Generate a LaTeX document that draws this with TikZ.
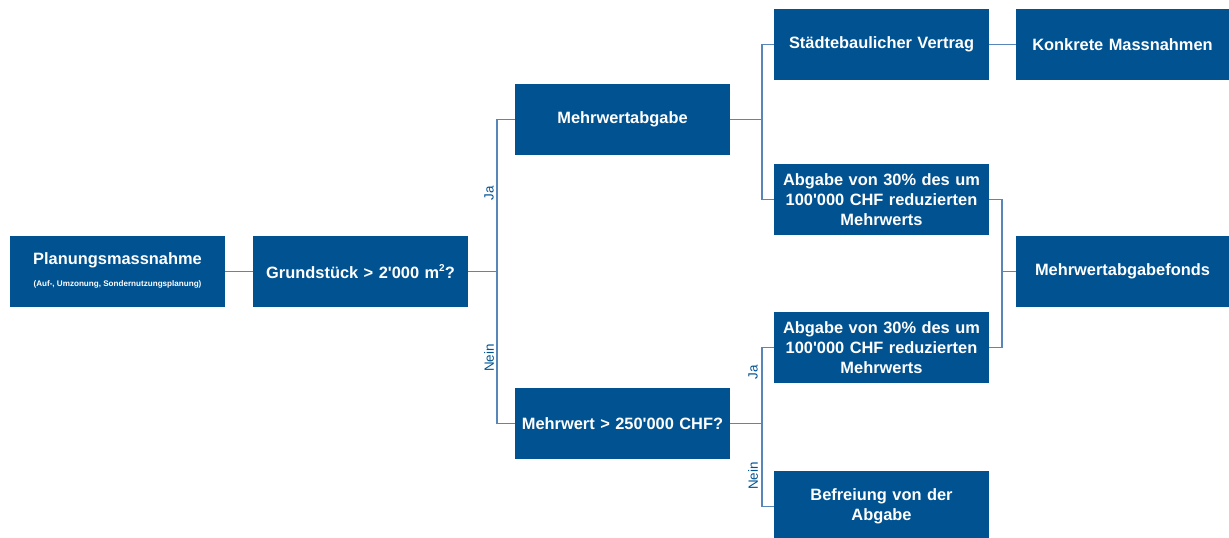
\documentclass[tikz,border=0pt]{standalone}
\usepackage{fontspec}
\setmainfont{Liberation Sans}
\definecolor{boxblue}{RGB}{0,82,145}
\definecolor{lineblue}{RGB}{88,134,184}
\newcommand{\sq}{\textquotesingle}
\begin{document}
\begin{tikzpicture}[x=1pt,y=-1pt,
  box/.style={fill=boxblue, text=white, inner sep=0pt, minimum width=215pt, minimum height=71pt,
    text width=210pt, align=center, font=\bfseries\fontsize{16.4}{20}\selectfont},
  conn/.style={draw=lineblue, line width=1.5pt},
  lbl/.style={text=boxblue, rotate=90, inner sep=0pt, font=\fontsize{13.4}{15}\selectfont}]
\useasboundingbox (0,0) rectangle (1229,538);
\node[box] (plan) at (117.5,271.5) {};
\node[inner sep=0pt, text=white, font=\bfseries\fontsize{16.4}{20}\selectfont] (plantxt) at (117.5,260) {Planungsmassnahme};
\node[inner sep=0pt, text=white, font=\bfseries\fontsize{8.1}{9}\selectfont] (plansub) at (117.5,284) {(Auf-, Umzonung, Sondernutzungsplanung)};
\node[box] (grund) at (360.5,271.5) {Grundstück > 2\sq000 m\raisebox{0.45em}{\fontsize{10}{10}\selectfont 2}?};
\node[box] (mwa) at (622.5,119.5) {Mehrwertabgabe};
\node[box] (mwq) at (622.5,423.5) {Mehrwert > 250\sq000 CHF?};
\node[box] (stv) at (881.5,44.5) {Städtebaulicher Vertrag};
\node[box, minimum width=213pt] (konk) at (1122.5,44.5) {Konkrete Massnahmen};
\node[box] (ab1) at (881.5,199.5) {Abgabe von 30\% des um\\100\sq000 CHF reduzierten\\Mehrwerts};
\node[box, minimum width=213pt] (fonds) at (1122.5,271.5) {Mehrwertabgabefonds};
\node[box] (ab2) at (881.5,347.5) {Abgabe von 30\% des um\\100\sq000 CHF reduzierten\\Mehrwerts};
\node[box] (befr) at (881.5,506.5) {Befreiung von der\\Abgabe};

\coordinate (j1) at (497,271.5);
\coordinate (j2) at (762,119.5);
\coordinate (j3) at (762,423.5);
\coordinate (j4) at (1002,271.5);

\draw[conn] (plan.east) -- (grund.west);
\draw[conn] (grund.east) -- (j1);
\draw[conn] (mwa.west) -| (j1) |- (mwq.west);
\draw[conn] (mwa.east) -- (j2);
\draw[conn] (stv.west) -| (j2) |- (ab1.west);
\draw[conn] (stv.east) -- (konk.west);
\draw[conn] (mwq.east) -- (j3);
\draw[conn] (ab2.west) -| (j3) |- (befr.west);
\draw[conn] (ab1.east) -| (j4) |- (ab2.east);
\draw[conn] (j4) -- (fonds.west);

\node[lbl] (ja1) at (489,193) {Ja};
\node[lbl] (nein1) at (489,358) {Nein};
\node[lbl] (ja2) at (753,372) {Ja};
\node[lbl] (nein2) at (753,476) {Nein};
\end{tikzpicture}
\end{document}
